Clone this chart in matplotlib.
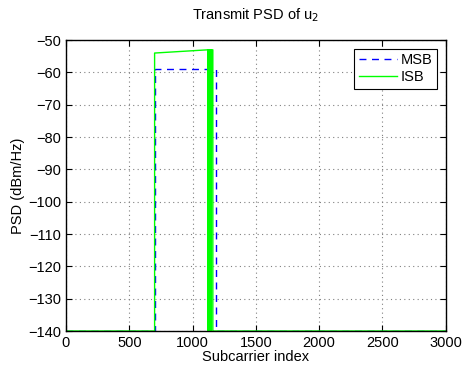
import matplotlib
matplotlib.use("Agg")
import matplotlib.pyplot as plt

plt.rcParams["font.family"] = ["Liberation Sans", "DejaVu Sans"]
plt.rcParams["font.size"] = 10

# MSB: flat band at -59 dBm/Hz, subcarriers ~700..1184
msb_x = [0, 700, 700, 1184, 1184, 3000]
msb_y = [-140, -140, -59, -59, -140, -140]

# ISB: slightly rising band -54 -> -53, then ragged edge near 1120..1160
isb_x = [0, 700, 700, 1120, 1120, 1125, 1125, 1130, 1130, 1135, 1135,
         1140, 1140, 1145, 1145, 1150, 1150, 1160, 1160, 3000]
isb_y = [-140, -140, -54, -53, -140, -53, -140, -53, -140, -53, -140,
         -53, -140, -53, -140, -53, -53, -53, -140, -140]

fig = plt.figure(figsize=(4.66, 3.68), dpi=100)
ax = fig.add_axes([0.1416, 0.1005, 0.815, 0.7905])

ax.plot(msb_x, msb_y, color="#0000ff", linestyle=(0, (5, 4)), linewidth=1.0, label="MSB")
ax.plot(isb_x, isb_y, color="#00ff00", linewidth=1.0, label="ISB")

ax.set_xlim(0, 3000)
ax.set_ylim(-140, -50)
ax.set_xticks(range(0, 3001, 500))
ax.set_yticks(range(-140, -49, 10))
ax.set_yticklabels([f"\u2212{abs(v)}" for v in range(-140, -49, 10)])
ax.grid(True, color="#808080", linestyle=(0, (1, 3)), linewidth=0.8)
ax.tick_params(direction="in", length=4, top=True, right=True, labelsize=10.5)
for s in ax.spines.values():
    s.set_linewidth(1.0)

ax.set_xlabel("Subcarrier index", labelpad=0, fontsize=10.5)
ax.set_ylabel("PSD (dBm/Hz)", labelpad=2, fontsize=10.5)
ax.set_title("Transmit PSD of u$_2$", fontsize=10.5, pad=15)

leg = ax.legend(loc="upper right", fancybox=False, edgecolor="black", framealpha=1,
                handlelength=2.6, borderpad=0.3, labelspacing=0.2, handletextpad=0.3,
                borderaxespad=0.6, fontsize=10.5)
leg.get_frame().set_linewidth(0.8)

fig.savefig("out.png", dpi=100)
